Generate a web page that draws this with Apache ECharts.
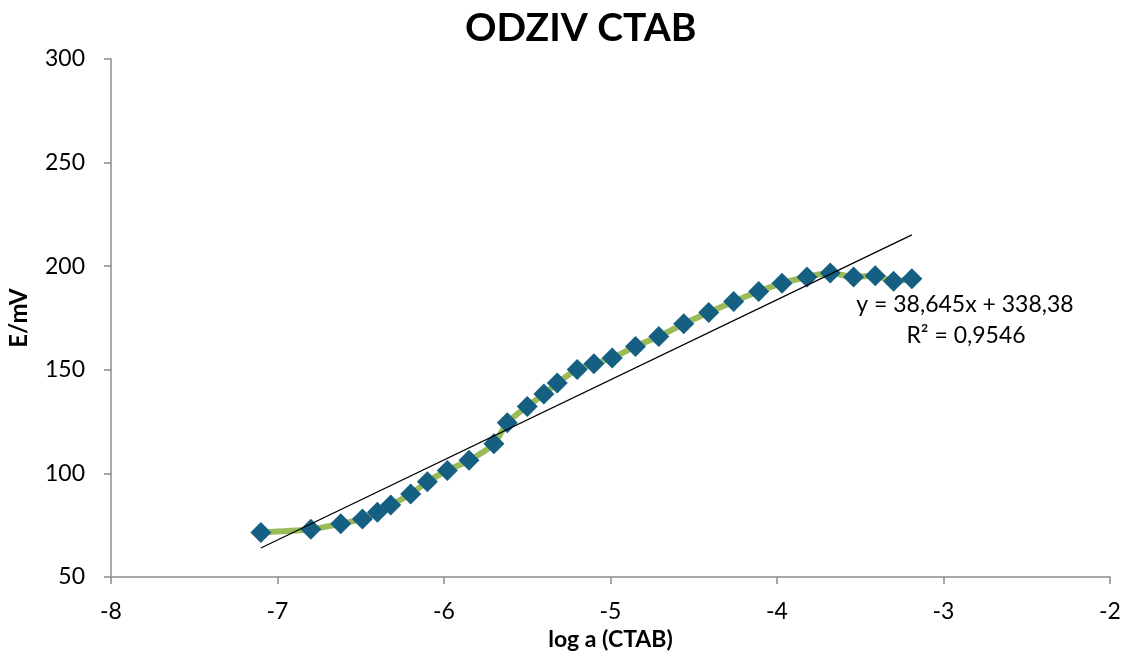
<!DOCTYPE html>
<html>
<head>
<meta charset="utf-8">
<title>ODZIV CTAB</title>
<script src="https://cdn.jsdelivr.net/npm/echarts@6/dist/echarts.min.js"></script>
<style>
  html, body { margin: 0; padding: 0; background: #fff; }
  #chart { width: 1125px; height: 651px; }
</style>
</head>
<body>
<div id="chart"></div>
<script>
// log a (CTAB)
var logA = [
  -7.10, -6.80, -6.62, -6.49, -6.40, -6.32, -6.20, -6.10, -5.98, -5.85,
  -5.70, -5.62, -5.50, -5.40, -5.32, -5.20, -5.10, -4.99, -4.85, -4.71,
  -4.56, -4.41, -4.26, -4.11, -3.97, -3.82, -3.68, -3.54, -3.41, -3.30, -3.19
]
// E/mV
var emf = [
  71.5, 73.0, 75.7, 78.0, 81.2, 84.7, 90.1, 96.0, 101.4, 106.3,
  114.3, 124.5, 132.3, 138.3, 143.6, 150.2, 152.9, 155.7, 161.3, 166.1,
  172.2, 177.6, 183.0, 187.8, 191.8, 194.8, 196.7, 194.8, 195.4, 192.7, 194.0
]
// linear trend (Excel)
var trendSlope = 38.645
var trendIntercept = 338.38
var trendLabel = ['y = 38,645x + 338,38', 'R² = 0,9546']

var xTicks = { min: -8, max: -2, interval: 1 }
var yTicks = { min: 50, max: 300, interval: 50 }

var points = logA.map(function(x, i) { return [x, emf[i]] })
var xFirst = Math.min.apply(null, logA)
var xLast = Math.max.apply(null, logA)
var trend = [xFirst, xLast].map(function(x) { return [x, trendSlope * x + trendIntercept] })

var font = 'Lato, "Open Sans", sans-serif'
var axisGray = '#8c8c8c'

var chart = echarts.init(document.getElementById('chart'))
chart.setOption({
  animation: false,
  textStyle: { fontFamily: font },
  title: {
    text: 'ODZIV CTAB',
    left: 460,
    top: 4,
    textStyle: { fontSize: 39, fontWeight: 'bold', color: '#000', fontFamily: font }
  },
  grid: { left: 111, right: 15, top: 59, bottom: 74, outerBoundsMode: 'none', containLabel: false },
  xAxis: {
    type: 'value',
    min: xTicks.min,
    max: xTicks.max,
    interval: xTicks.interval,
    name: 'log a (CTAB)',
    nameLocation: 'middle',
    nameGap: 44,
    nameTextStyle: { fontSize: 23, fontWeight: 'bold', color: '#000' },
    axisLine: { show: true, onZero: false, lineStyle: { color: axisGray, width: 1.5 } },
    axisTick: { show: true, length: 7, lineStyle: { color: axisGray, width: 1.5 } },
    axisLabel: { fontSize: 23, color: '#000', margin: 23 },
    splitLine: { show: false }
  },
  yAxis: {
    type: 'value',
    min: yTicks.min,
    max: yTicks.max,
    interval: yTicks.interval,
    name: 'E/mV',
    nameLocation: 'middle',
    nameGap: 80,
    nameTextStyle: { fontSize: 24, fontWeight: 'bold', color: '#000' },
    axisLine: { show: true, onZero: false, lineStyle: { color: axisGray, width: 1.5 } },
    axisTick: { show: true, length: 7, lineStyle: { color: axisGray, width: 1.5 } },
    axisLabel: { fontSize: 23, color: '#000', margin: 26 },
    splitLine: { show: false }
  },
  graphic: [
    {
      type: 'text',
      x: 965,
      y: 305,
      style: { text: trendLabel[0], fontSize: 23, fill: '#000', fontFamily: font, align: 'center', verticalAlign: 'middle' }
    },
    {
      type: 'text',
      x: 966,
      y: 336,
      style: { text: trendLabel[1], fontSize: 23, fill: '#000', fontFamily: font, align: 'center', verticalAlign: 'middle' }
    }
  ],
  series: [
    {
      name: 'E',
      type: 'line',
      data: points,
      smooth: 0.3,
      symbol: 'diamond',
      symbolSize: 21,
      lineStyle: { color: '#9bbb59', width: 6 },
      itemStyle: { color: '#156082' },
      z: 2
    },
    {
      name: 'trend',
      type: 'line',
      data: trend,
      symbol: 'none',
      lineStyle: { color: '#000', width: 1.3 },
      z: 3
    }
  ]
})
</script>
</body>
</html>
